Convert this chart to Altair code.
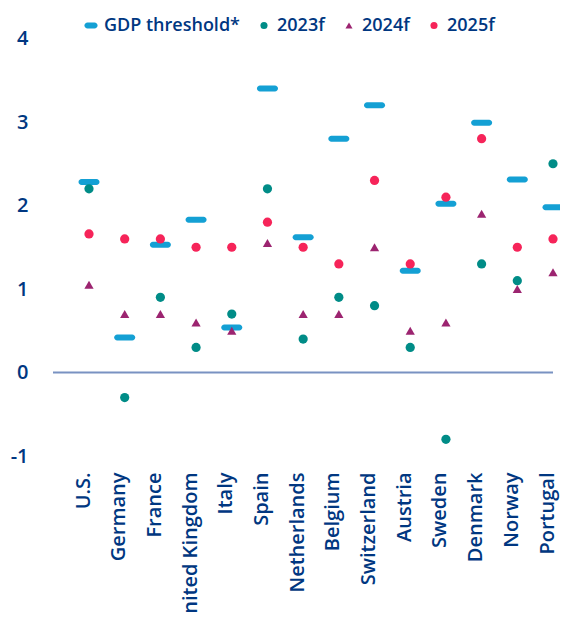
import altair as alt
import pandas as pd

countries = ["U.S.", "Germany", "France", "United Kingdom", "Italy", "Spain", "Netherlands",
             "Belgium", "Switzerland", "Austria", "Sweden", "Denmark", "Norway", "Portugal"]
threshold = [2.28, 0.42, 1.53, 1.83, 0.54, 3.40, 1.62, 2.80, 3.20, 1.22, 2.02, 2.99, 2.31, 1.98]
f2023 = [2.2, -0.3, 0.9, 0.3, 0.7, 2.2, 0.4, 0.9, 0.8, 0.3, -0.8, 1.3, 1.1, 2.5]
f2024 = [1.05, 0.7, 0.7, 0.6, 0.5, 1.55, 0.7, 0.7, 1.5, 0.5, 0.6, 1.9, 1.0, 1.2]
f2025 = [1.66, 1.6, 1.6, 1.5, 1.5, 1.8, 1.5, 1.3, 2.3, 1.3, 2.1, 2.8, 1.5, 1.6]
series_names = ["GDP threshold*", "2023f", "2024f", "2025f"]
y_ticks = [-1, 0, 1, 2, 3, 4]

TEXT = "#003781"
FONT = "Open Sans"

thr_df = pd.DataFrame({"country": countries, "value": threshold})
rows = []
for name, vals in zip(series_names[1:], [f2023, f2024, f2025]):
    for c, v in zip(countries, vals):
        rows.append({"country": c, "series": name, "value": v})
pts_df = pd.DataFrame(rows)
zero_df = pd.DataFrame({"value": [0]})

xscale = alt.Scale(type="point", domain=countries, range=[36, 500], padding=0)
yscale = alt.Scale(domain=[-1, 4], nice=False, zero=False)

x_axis = alt.Axis(title=None, labelAngle=-90, labelAlign="right",
                  labelBaseline="alphabetic", labelPadding=16,
                  domain=False, ticks=False, labelFontSize=20,
                  labelColor=TEXT, labelFont=FONT, labelOverlap=False,
                  labelFontWeight=600)
y_axis = alt.Axis(title=None, values=y_ticks, grid=False, domain=False,
                  ticks=False, labelPadding=25, labelFontSize=20,
                  labelColor=TEXT, labelFont=FONT, labelFontWeight=600,
                  labelExpr="'' + datum.value")

x_enc = alt.X("country:N", scale=xscale, sort=countries, axis=x_axis)
y_enc = alt.Y("value:Q", scale=yscale, axis=y_axis)

ticks = alt.Chart(thr_df).mark_tick(
    color="#14A0D4", thickness=6, size=21, cornerRadius=3, opacity=1
).encode(x=x_enc, y=y_enc)

zero_line = alt.Chart(zero_df).mark_rule(
    color="#7992C2", strokeWidth=2
).encode(y=y_enc, x=alt.value(0), x2=alt.value(500))

bar_path = "M-1,-0.85 L1,-0.85 A0.85,0.85 0 0 1 1,0.85 L-1,0.85 A0.85,0.85 0 0 1 -1,-0.85 Z"

leg = alt.Legend(title=None, orient="none", direction="horizontal",
                 legendX=29, legendY=-22, symbolSize=50,
                 labelFontSize=18, labelColor=TEXT, labelFont=FONT,
                 labelFontWeight=600, labelOffset=4,
                 columnPadding=15, symbolStrokeWidth=0)

points = alt.Chart(pts_df).mark_point(filled=True, size=85, opacity=1).encode(
    x=x_enc,
    y=y_enc,
    color=alt.Color("series:N",
                    scale=alt.Scale(domain=series_names,
                                    range=["#14A0D4", "#008C87", "#9C2470", "#F62459"]),
                    legend=leg),
    shape=alt.Shape("series:N",
                    scale=alt.Scale(domain=series_names,
                                    range=[bar_path, "circle", "triangle-up", "circle"]),
                    legend=leg),
)

chart = alt.layer(ticks, zero_line, points).properties(
    width=502, height=417.5,
    autosize=alt.AutoSizeParams(type="none"),
    padding={"left": 45, "top": 30.5, "right": 5, "bottom": 158},
).configure(background="white").configure_view(stroke=None)

chart.save("out.html", embed_options={"renderer": "svg", "actions": False})
